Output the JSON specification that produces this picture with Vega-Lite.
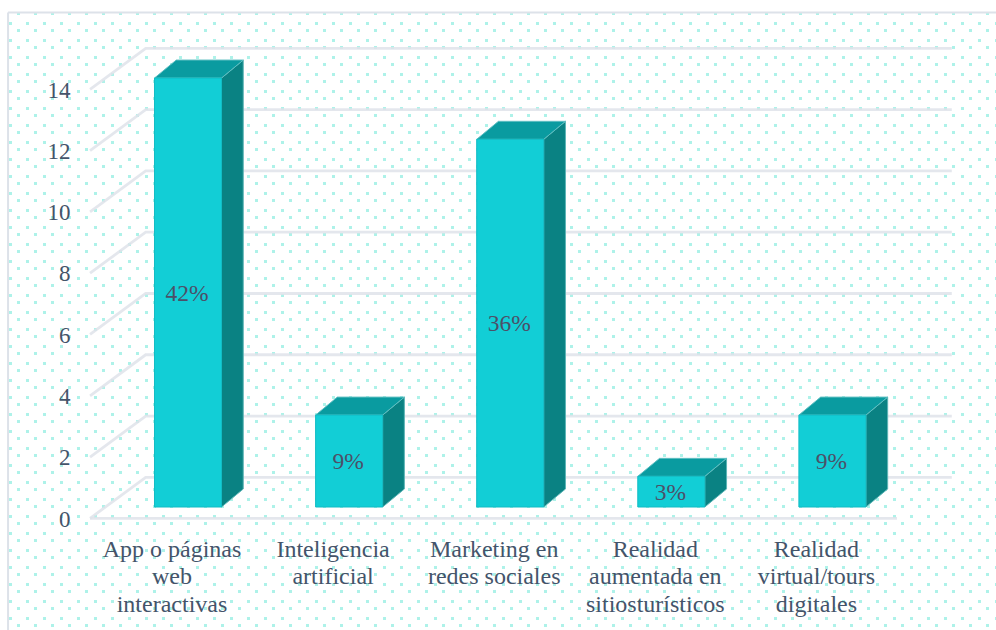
{
"$schema":"https://vega.github.io/schema/vega-lite/v6.json",
"width":996,"height":630,"autosize":{"type":"none"},"padding":0,"background":"white",
"config":{"view":{"stroke":null}},
"datasets":{
"dotsA":[{"y":16.1065},{"y":15.5515},{"y":14.9965},{"y":14.4425},{"y":13.8875},{"y":13.3325},{"y":12.7775},{"y":12.2225},{"y":11.6675},{"y":11.1135},{"y":10.5585},{"y":10.0035},{"y":9.4485},{"y":8.8935},{"y":8.3385},{"y":7.7845},{"y":7.2295},{"y":6.6745},{"y":6.1195},{"y":5.5645},{"y":5.0095},{"y":4.4555},{"y":3.9005},{"y":3.3455},{"y":2.7905},{"y":2.2355},{"y":1.6805},{"y":1.1265},{"y":0.5715},{"y":0.0165},{"y":-0.5385},{"y":-1.0935},{"y":-1.6475},{"y":-2.2025},{"y":-2.7575},{"y":-3.3125},{"y":-3.8675}],
"dotsB":[{"y":15.7795},{"y":15.2245},{"y":14.6695},{"y":14.1155},{"y":13.5605},{"y":13.0055},{"y":12.4505},{"y":11.8955},{"y":11.3405},{"y":10.7865},{"y":10.2315},{"y":9.6765},{"y":9.1215},{"y":8.5665},{"y":8.0115},{"y":7.4575},{"y":6.9025},{"y":6.3475},{"y":5.7925},{"y":5.2375},{"y":4.6825},{"y":4.1285},{"y":3.5735},{"y":3.0185},{"y":2.4635},{"y":1.9085},{"y":1.3535},{"y":0.7995},{"y":0.2445},{"y":-0.3105},{"y":-0.8655},{"y":-1.4205},{"y":-1.9745},{"y":-2.5295},{"y":-3.0845},{"y":-3.6395}],
"grid":[
{"t":"0f","x":-0.608,"y":-0.369},{"t":"0f","x":4.401,"y":-0.369},
{"t":"0","x":-0.608,"y":-0.369},{"t":"0","x":-0.2626,"y":0.969},{"t":"0","x":4.741,"y":0.969},
{"t":"2","x":-0.608,"y":1.631},{"t":"2","x":-0.2626,"y":2.969},{"t":"2","x":4.741,"y":2.969},
{"t":"4","x":-0.608,"y":3.631},{"t":"4","x":-0.2626,"y":4.969},{"t":"4","x":4.741,"y":4.969},
{"t":"6","x":-0.608,"y":5.631},{"t":"6","x":-0.2626,"y":6.969},{"t":"6","x":4.741,"y":6.969},
{"t":"8","x":-0.608,"y":7.631},{"t":"8","x":-0.2626,"y":8.969},{"t":"8","x":4.741,"y":8.969},
{"t":"10","x":-0.608,"y":9.631},{"t":"10","x":-0.2626,"y":10.969},{"t":"10","x":4.741,"y":10.969},
{"t":"12","x":-0.608,"y":11.631},{"t":"12","x":-0.2626,"y":12.969},{"t":"12","x":4.741,"y":12.969},
{"t":"14","x":-0.608,"y":13.631},{"t":"14","x":-0.2626,"y":14.969},{"t":"14","x":4.741,"y":14.969}
],
"bars":[
{"cat":"App o páginas web interactivas","i":0,"value":14,"left":-0.208,"right":0.208,"mid":7,"pct":"42%"},
{"cat":"Inteligencia artificial","i":1,"value":3,"left":0.792,"right":1.208,"mid":1.5,"pct":"9%"},
{"cat":"Marketing en redes sociales","i":2,"value":12,"left":1.792,"right":2.208,"mid":6,"pct":"36%"},
{"cat":"Realidad aumentada en sitiosturísticos","i":3,"value":1,"left":2.792,"right":3.208,"mid":0.5,"pct":"3%"},
{"cat":"Realidad virtual/tours digitales","i":4,"value":3,"left":3.792,"right":4.208,"mid":1.5,"pct":"9%"}
],
"side":[
{"b":0,"x":0.208,"y":14,"y2":0},{"b":0,"x":0.343,"y":14.5875,"y2":0.5875},
{"b":1,"x":1.208,"y":3,"y2":0},{"b":1,"x":1.343,"y":3.5875,"y2":0.5875},
{"b":2,"x":2.208,"y":12,"y2":0},{"b":2,"x":2.343,"y":12.5875,"y2":0.5875},
{"b":3,"x":3.208,"y":1,"y2":0},{"b":3,"x":3.343,"y":1.5875,"y2":0.5875},
{"b":4,"x":4.208,"y":3,"y2":0},{"b":4,"x":4.343,"y":3.5875,"y2":0.5875}
],
"top":[
{"b":0,"y":14,"x":-0.208,"x2":0.208},{"b":0,"y":14.5875,"x":-0.073,"x2":0.343},
{"b":1,"y":3,"x":0.792,"x2":1.208},{"b":1,"y":3.5875,"x":0.927,"x2":1.343},
{"b":2,"y":12,"x":1.792,"x2":2.208},{"b":2,"y":12.5875,"x":1.927,"x2":2.343},
{"b":3,"y":1,"x":2.792,"x2":3.208},{"b":3,"y":1.5875,"x":2.927,"x2":3.343},
{"b":4,"y":3,"x":3.792,"x2":4.208},{"b":4,"y":3.5875,"x":3.927,"x2":4.343}
]
},
"layer":[
{"data":{"name":"dotsA"},"mark":{"type":"rule","stroke":"#aef2e9","strokeWidth":3,"strokeDash":[3,14],"strokeDashOffset":8},
"encoding":{
"y":{"field":"y","type":"quantitative","scale":{"domain":[-4.014,16.547],"nice":false,"zero":false},"axis":{"orient":"left","offset":-70,"values":[0,2,4,6,8,10,12,14],"title":null,"domain":false,"ticks":false,"grid":false,"labelPadding":0,"labelOffset":12,"labelFont":"Liberation Serif","labelFontSize":23,"labelColor":"#44546a","labelOverlap":false,"labelBound":false,"zindex":2}},
"x":{"datum":-1.1174,"type":"quantitative","scale":{"domain":[-1.167,5.0155],"nice":false,"zero":false},"axis":{"orient":"bottom","offset":-93,"values":[0,1,2,3,4],"title":null,"domain":false,"ticks":false,"grid":false,"labelPadding":0,"labelOffset":-16.5,"labelBaseline":"top","labelAlign":"center","labelFont":"Liberation Serif","labelFontSize":24,"labelLineHeight":27.5,"labelColor":"#44546a","labelOverlap":false,"labelBound":false,"labelFlush":false,"zindex":2,"labelExpr":"[['App o páginas','web','interactivas'],['Inteligencia','artificial'],['Marketing en','redes sociales'],['Realidad','aumentada en','sitiosturísticos'],['Realidad','virtual/tours','digitales']][datum.value]"}},
"x2":{"datum":5.0155}}},
{"data":{"name":"dotsB"},"mark":{"type":"rule","stroke":"#aef2e9","strokeWidth":3,"strokeDash":[3,14],"strokeDashOffset":16},
"encoding":{"y":{"field":"y","type":"quantitative"},"x":{"datum":-1.1174,"type":"quantitative"},"x2":{"datum":5.0155}}},
{"data":{"values":[{"a":1}]},"mark":{"type":"rule","stroke":"#dde2e9","strokeWidth":2},
"encoding":{"x":{"datum":-1.117,"type":"quantitative"},"x2":{"datum":5.0155},"y":{"datum":16.139,"type":"quantitative"}}},
{"data":{"values":[{"a":1}]},"mark":{"type":"rule","stroke":"#dde2e9","strokeWidth":2},
"encoding":{"x":{"datum":-1.117,"type":"quantitative"},"y":{"datum":16.139,"type":"quantitative"},"y2":{"datum":-4.014}}},
{"data":{"name":"grid"},"mark":{"type":"line","stroke":"#dfe3ea","strokeWidth":2.8,"opacity":0.85},
"encoding":{"x":{"field":"x","type":"quantitative"},"y":{"field":"y","type":"quantitative"},"detail":{"field":"t"},"order":{"field":"x"}}},
{"data":{"name":"side"},"mark":{"type":"area","orient":"vertical","fill":"#0a8283","stroke":"#5db5b6","strokeWidth":1},
"encoding":{"x":{"field":"x","type":"quantitative"},"y":{"field":"y","type":"quantitative"},"y2":{"field":"y2"},"detail":{"field":"b"}}},
{"data":{"name":"top"},"mark":{"type":"area","orient":"horizontal","fill":"#0a9ba0","stroke":"#5fbfc2","strokeWidth":1},
"encoding":{"y":{"field":"y","type":"quantitative"},"x":{"field":"x","type":"quantitative"},"x2":{"field":"x2"},"detail":{"field":"b"}}},
{"data":{"name":"bars"},"mark":{"type":"rect","fill":"#12ced6","stroke":"#12bcc4","strokeWidth":1},
"encoding":{"x":{"field":"left","type":"quantitative"},"x2":{"field":"right"},"y":{"field":"value","type":"quantitative"},"y2":{"datum":0}}},
{"data":{"name":"bars"},"mark":{"type":"text","font":"Liberation Serif","fontSize":23.5,"fill":"#4c5068","align":"center","baseline":"middle","dy":1,"dx":-1},
"encoding":{"x":{"field":"i","type":"quantitative"},"y":{"field":"mid","type":"quantitative"},"text":{"field":"pct"}}}
]
}
